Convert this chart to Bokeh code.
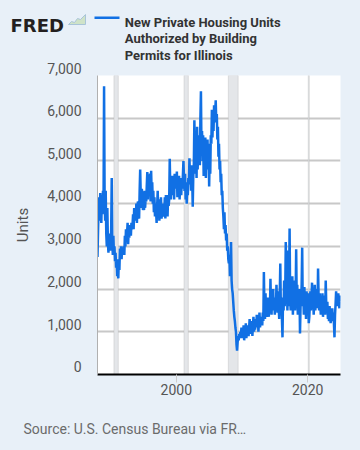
from bokeh.plotting import figure
from bokeh.layouts import column
from bokeh.models import (Range1d, FixedTicker, NumeralTickFormatter, BoxAnnotation)
from bokeh.core.properties import value
from bokeh.embed import file_html
from bokeh.resources import INLINE

# ---------------- data ----------------
start_year = 1988  # monthly series starting January 1988
units = [
    # 1988
    2750, 3350, 3900, 4150, 3600, 4250, 3800, 3550, 4200, 3750, 4300, 3900,
    # 1989
    6750, 4100, 3600, 4300, 3300, 3000, 3900, 3100, 2850, 3300, 3000, 2900,
    # 1990
    3000, 3400, 4600, 3100, 2800, 3250, 2800, 3000, 2650, 2850, 2500, 2700,
    # 1991
    2300, 2550, 2250, 2700, 2450, 2950, 2750, 3000, 2700, 2950, 2800, 2900,
    # 1992
    3000, 2800, 3250, 3000, 3400, 3150, 3300, 3550, 3050, 3400, 3200, 3500,
    # 1993
    3350, 3250, 3550, 3400, 3500, 3750, 3400, 3900, 3600, 3850, 3700, 4000,
    # 1994
    3550, 3950, 4050, 3700, 3650, 4300, 4800, 4200, 3900, 4350, 4100, 3850,
    # 1995
    4000, 3850, 4300, 3900, 4150, 4050, 4400, 4740, 4100, 4450, 4250, 4600,
    # 1996
    4700, 4050, 4770, 4200, 4500, 4000, 4300, 3800, 4150, 3700, 4000, 3850,
    # 1997
    3550, 3950, 4300, 3700, 4100, 3600, 3900, 3750, 4150, 3650, 3900, 3750,
    # 1998
    3700, 4000, 3800, 4150, 3650, 4200, 3900, 4050, 3700, 4200, 3950, 4100,
    # 1999
    5050, 4300, 4100, 4550, 4200, 4650, 4250, 4500, 4100, 4700, 4350, 4450,
    # 2000
    4400, 4750, 4150, 4500, 4300, 4650, 4100, 4400, 4600, 4200, 4550, 4350,
    # 2001
    4650, 5000, 4600, 4300, 4700, 4100, 4500, 4000, 4400, 4200, 4600, 4450,
    # 2002
    5060, 4500, 4850, 4300, 4900, 4600, 3930, 4650, 4900, 5950, 5100, 4700,
    # 2003
    5400, 4600, 5800, 4800, 5500, 5000, 5600, 4900, 6000, 6630, 5200, 5700,
    # 2004
    5000, 5600, 4650, 5300, 4900, 5550, 4600, 5200, 5000, 5500, 4800, 5400,
    # 2005
    4400, 5200, 4700, 5600, 5400, 6200, 5550, 6000, 5700, 6300, 5900, 6100,
    # 2006
    6420, 5900, 6100, 5500, 5800, 5100, 5400, 4800, 5000, 4500, 4700, 4200,
    # 2007
    4300, 3900, 3700, 3400, 3800, 3300, 3500, 3140, 3300, 2900, 3000, 2700,
    # 2008
    2600, 2800, 2300, 2500, 3100, 2200, 2000, 1900, 1700, 1500, 1350, 1250,
    # 2009
    1100, 1000, 700, 560, 750, 900, 800, 950, 850, 1000, 900, 1100,
    # 2010
    850, 1050, 950, 1150, 800, 1100, 900, 1200, 850, 1050, 950, 1150,
    # 2011
    900, 1100, 1300, 950, 1200, 1000, 1250, 900, 1150, 1350, 1000, 1200,
    # 2012
    1050, 1300, 1100, 1400, 1150, 1350, 1000, 1250, 1450, 1100, 1300, 1200,
    # 2013
    1350, 1150, 1450, 1250, 2400, 1500, 1300, 1900, 1400, 1700, 1350, 1800,
    # 2014
    1500, 1350, 1800, 1450, 2240, 1600, 1400, 1900, 1550, 2000, 1500, 1700,
    # 2015
    1400, 1800, 1550, 2100, 1650, 1450, 1950, 1600, 1300, 1850, 2600, 1500,
    # 2016
    1700, 1300, 870, 1800, 1500, 2200, 1600, 1900, 3100, 1700, 2300, 1500,
    # 2017
    2900, 1600, 2100, 3420, 1800, 1500, 2000, 1700, 2300, 1400, 1900, 1600,
    # 2018
    2200, 1500, 1800, 2930, 1700, 2100, 1400, 1800, 1550, 2000, 960, 1600,
    # 2019
    1700, 2100, 2970, 1600, 1900, 1400, 2050, 1500, 1800, 1300, 1950, 1600,
    # 2020
    1450, 1900, 1200, 1350, 1650, 1950, 1500, 1800, 2150, 1600, 1900, 1400,
    # 2021
    1700, 2100, 1500, 1850, 1600, 2000, 1550, 2480, 1800, 1500, 1900, 1650,
    # 2022
    1400, 1800, 1550, 1900, 1350, 1750, 1500, 1850, 1400, 2200, 1600, 1450,
    # 2023
    1700, 1300, 1550, 1250, 1600, 1400, 1200, 1500, 1350, 1550, 1250, 1450,
    # 2024
    1200, 870, 1400, 1650, 1950, 1600, 1800, 1650, 1900, 1700, 1550, 1850,
    # 2025
    1700,
]

# recessions (decimal years)
rec_start = [1990.5, 2001.1667, 2007.9167, 2020.0833]
rec_end = [1991.1667, 2001.8333, 2009.4167, 2020.25]

y_ticks = [0, 1000, 2000, 3000, 4000, 5000, 6000, 7000]
x_ticks = [2000, 2020]

title_lines = ["New Private Housing Units", "Authorized by Building", "Permits for Illinois"]
y_label = "Units"
logo_text = "FRED"
source_text = "Source: U.S. Census Bureau via FR\u2026"

# ---------------- styling ----------------
W = 360
BG = "#e8f0f8"
LINE = "#1170e4"
TXT = "#555555"
HEAD_H, OVERLAP, MAIN_H, FOOT_H = 66, 6, 345, 45


def blank(h):
    f = figure(width=W, height=h, output_backend="svg", toolbar_location=None,
               x_range=Range1d(0, W), y_range=Range1d(h, 0),
               x_axis_type=None, y_axis_type=None, min_border=0)
    f.frame_align = False
    f.background_fill_color = BG
    f.border_fill_color = BG
    f.outline_line_color = None
    f.grid.visible = False
    return f


# ---------------- header ----------------
head = blank(HEAD_H)
head.text(x=[10], y=[25], text=[logo_text], text_font=value("DejaVu Sans"),
          text_font_style="bold", text_font_size="18px", text_color="#231f20",
          text_baseline="alphabetic")
head.patch(x=[68, 71, 74, 77, 80, 85, 85, 68], y=[24, 21, 22, 18, 19, 14, 24, 24],
           fill_color="#cfe3c8", line_color="#a9c4d8", line_width=1)
head.line(x=[94, 119], y=[17.3, 17.3], line_color=LINE, line_width=2.5)
head.text(x=[124.3] * 3, y=[21.5, 38.25, 55.0], text=title_lines, text_font=value("Roboto"),
          text_font_style="bold", text_font_size="13px", text_color="#333333",
          text_baseline="alphabetic")

# ---------------- main chart ----------------
dates = [start_year + i / 12.0 for i in range(len(units))]

p = figure(width=W, height=MAIN_H, output_backend="svg", toolbar_location=None,
           x_range=Range1d(dates[0], dates[-1]), y_range=Range1d(0, 7000),
           min_border_left=97, min_border_right=20, min_border_top=15, min_border_bottom=31)
p.frame_align = False
p.styles = {"margin-top": "-%dpx" % OVERLAP}
p.background_fill_color = "white"
p.border_fill_color = BG
p.outline_line_color = None

for s, e in zip(rec_start, rec_end):
    p.add_layout(BoxAnnotation(left=s, right=e, fill_color="#e4e6e9", fill_alpha=1.0,
                               line_color="#a8a8a8", line_width=1, level="underlay"))

p.line(x=dates, y=units, color=LINE, line_width=2.5)

p.yaxis.ticker = FixedTicker(ticks=y_ticks)
p.yaxis.major_label_overrides = {v: "{:,}\n".format(v) for v in y_ticks}
p.yaxis.major_label_text_line_height = 0.9
p.yaxis.major_tick_out = 0
p.yaxis.major_tick_in = 0
p.yaxis.minor_tick_out = 0
p.yaxis.minor_tick_in = 0
p.yaxis.major_label_standoff = 16
p.yaxis.major_label_text_font = "Roboto"
p.yaxis.major_label_text_font_size = "14px"
p.yaxis.major_label_text_color = TXT
p.yaxis.axis_line_color = "#b0b0b0"
p.yaxis.axis_line_width = 1
p.yaxis.axis_label = y_label
p.yaxis.axis_label_text_font = "Roboto"
p.yaxis.axis_label_text_font_size = "15px"
p.yaxis.axis_label_text_font_style = "normal"
p.yaxis.axis_label_text_color = TXT
p.yaxis.axis_label_standoff = 12

p.xaxis.ticker = FixedTicker(ticks=x_ticks)
p.xaxis.formatter = NumeralTickFormatter(format="0")
p.xaxis.major_tick_out = 8
p.xaxis.major_tick_in = 0
p.xaxis.minor_tick_out = 0
p.xaxis.minor_tick_in = 0
p.xaxis.major_tick_line_color = "#cccccc"
p.xaxis.major_label_standoff = 1
p.xaxis.major_label_text_font = "Roboto"
p.xaxis.major_label_text_font_size = "14px"
p.xaxis.major_label_text_color = TXT
p.xaxis.axis_line_color = "black"
p.xaxis.axis_line_width = 2

p.xgrid.grid_line_color = None
p.ygrid.grid_line_color = "#c8c8c8"
p.ygrid.grid_line_width = 2
p.ygrid.ticker = FixedTicker(ticks=y_ticks[1:])

# ---------------- footer ----------------
foot = blank(FOOT_H)
foot.text(x=[23], y=[23.5], text=[source_text], text_font=value("Roboto"),
          text_font_size="14px", text_color="#6b6b6b", text_baseline="alphabetic")

layout = column(head, p, foot, spacing=0)
html = file_html(layout, INLINE)
html = html.replace("<head>", "<head><style>html,body{background:%s;}</style>" % BG, 1)
open("out.html", "w").write(html)
